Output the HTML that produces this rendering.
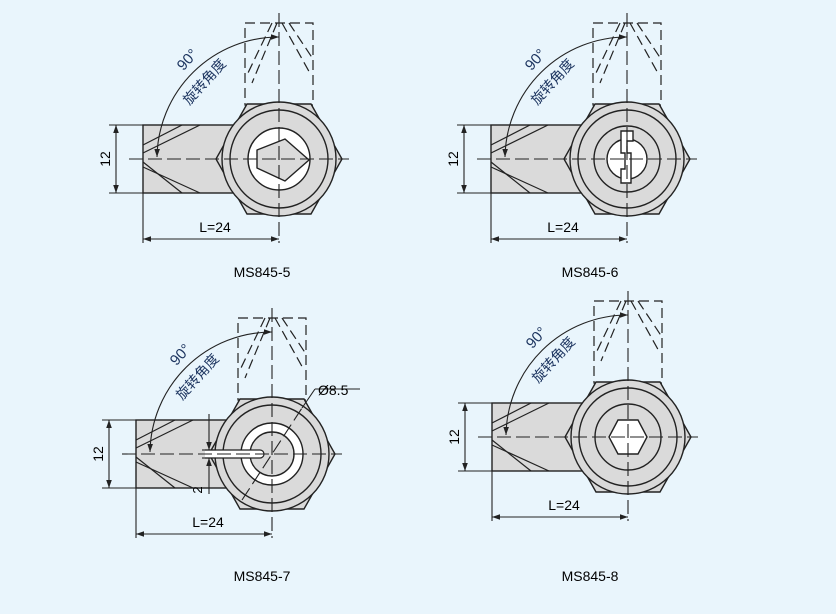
<!DOCTYPE html>
<html><head><meta charset="utf-8"><style>
html,body{margin:0;padding:0;background:#e9f5fc;}
svg{display:block;}
text{font-family:"Liberation Sans","Noto Sans CJK SC",sans-serif;}
</style></head><body>
<svg width="836" height="614" viewBox="0 0 836 614" xmlns="http://www.w3.org/2000/svg">
<defs>
<marker id="ar" viewBox="0 0 10 10" refX="10" refY="5" markerWidth="8" markerHeight="8" orient="auto-start-reverse" markerUnits="userSpaceOnUse"><path d="M0,1.5 L10,5 L0,8.5 z" fill="#222"/></marker>
<g id="base" stroke="#222" stroke-width="1.4">
  <rect x="-136" y="-34" width="100" height="68" fill="#dadada"/>
  <g fill="none" stroke-width="1.2">
    <line x1="-136" y1="-14" x2="-97" y2="-34"/><line x1="-136" y1="-6" x2="-79" y2="-34"/>
    <line x1="-136" y1="3" x2="-97" y2="34"/><line x1="-136" y1="8" x2="-79" y2="34"/>
  </g>
  <g fill="none" stroke-dasharray="10,5" stroke-width="1.2">
    <rect x="-34" y="-136" width="68" height="82"/>
    <line x1="-7" y1="-136" x2="-32" y2="-84"/><line x1="-2" y1="-136" x2="-27" y2="-76"/>
    <line x1="3" y1="-136" x2="32" y2="-84"/><line x1="10" y1="-136" x2="34" y2="-100"/>
  </g>
  <polygon points="-63,0 -32,-55 32,-55 63,0 32,55 -32,55" fill="#dadada"/>
  <circle r="57" fill="#dadada"/>
  <circle r="49" fill="none"/>
  <path d="M0,-122 A122 122 0 0 0 -122,-2" fill="none" stroke-width="1.1" marker-start="url(#ar)" marker-end="url(#ar)"/>
</g>
<g id="dims" stroke="#222" stroke-width="1.1" fill="none">
  <line x1="-170" y1="-34" x2="-136" y2="-34"/><line x1="-170" y1="34" x2="-136" y2="34"/>
  <line x1="-163" y1="-34" x2="-163" y2="34" marker-start="url(#ar)" marker-end="url(#ar)"/>
  <line x1="-136" y1="34" x2="-136" y2="84"/>
  <line x1="-136" y1="80" x2="0" y2="80" marker-start="url(#ar)" marker-end="url(#ar)"/>
</g>
<g id="cl" stroke="#222" stroke-width="1.1" stroke-dasharray="14,5" fill="none">
  <line x1="0" y1="-146" x2="0" y2="84"/>
  <line x1="-150" y1="0" x2="70" y2="0"/>
</g>
</defs>

<!-- Figure 1 -->
<g transform="translate(279,159)">
  <use href="#base"/>
  <circle r="31" fill="#fff" stroke="#222" stroke-width="1.4"/>
  <polygon points="-22,-9 -22,9 6,22 30,1 6,-20" fill="#dadada" stroke="#222" stroke-width="1.4" stroke-linejoin="round"/>
  <use href="#cl"/><use href="#dims"/>
  <text x="-64" y="73" font-size="14" text-anchor="middle">L=24</text>
  <text transform="translate(-169,0) rotate(-90)" font-size="14" text-anchor="middle">12</text>
  <text transform="translate(-88,-96) rotate(-48)" font-size="15" fill="#1d3560" text-anchor="middle">90°</text>
  <text transform="translate(-71,-74) rotate(-48)" font-size="14" fill="#1d3560" text-anchor="middle">旋转角度</text>
  <text x="-17" y="118" font-size="14" text-anchor="middle">MS845-5</text>
</g>

<!-- Figure 2 -->
<g transform="translate(627,159)">
  <use href="#base"/>
  <circle r="33" fill="none" stroke="#222" stroke-width="1.4"/>
  <circle r="20" fill="#fff" stroke="#222" stroke-width="1.4"/>
  <path d="M-6,-28 L6,-28 L6,-18 L0,-18 L0,-6 L4,-6 L4,24 L-6,24 L-6,10 L-2,10 L-2,-6 L-6,-6 z" fill="#fff" stroke="#222" stroke-width="1.4"/>
  <use href="#cl"/><use href="#dims"/>
  <text x="-64" y="73" font-size="14" text-anchor="middle">L=24</text>
  <text transform="translate(-169,0) rotate(-90)" font-size="14" text-anchor="middle">12</text>
  <text transform="translate(-88,-96) rotate(-48)" font-size="15" fill="#1d3560" text-anchor="middle">90°</text>
  <text transform="translate(-71,-74) rotate(-48)" font-size="14" fill="#1d3560" text-anchor="middle">旋转角度</text>
  <text x="-37" y="118" font-size="14" text-anchor="middle">MS845-6</text>
</g>

<!-- Figure 3 -->
<g transform="translate(272,454)">
  <use href="#base"/>
  <circle r="31" fill="#fff" stroke="#222" stroke-width="1.4"/>
  <circle r="22" fill="#dadada" stroke="#222" stroke-width="1.4"/>
  <path d="M-67,-4 L-12,-4 A4 4 0 0 1 -12,4 L-67,4" fill="#fff" stroke="#222" stroke-width="1.2"/>
  <use href="#cl"/><use href="#dims"/>
  <g stroke="#222" stroke-width="1.1" fill="none">
    <line x1="-63" y1="-40" x2="-63" y2="-4" marker-end="url(#ar)"/>
    <line x1="-63" y1="40" x2="-63" y2="4" marker-end="url(#ar)"/>
    <line x1="-70" y1="-4" x2="-56" y2="-4"/><line x1="-70" y1="4" x2="-56" y2="4"/>
    <line x1="-30" y1="46" x2="30" y2="-46" stroke-dasharray="14,5"/>
    <line x1="30" y1="-46" x2="43" y2="-65"/>
    <line x1="43" y1="-65" x2="88" y2="-65"/>
  </g>
  <text x="46" y="-53" font-size="14" transform="translate(0,-6)">Ø8.5</text>
  <text transform="translate(-70,36) rotate(-90)" font-size="13" text-anchor="middle">2</text>
  <text x="-64" y="73" font-size="14" text-anchor="middle">L=24</text>
  <text transform="translate(-169,0) rotate(-90)" font-size="14" text-anchor="middle">12</text>
  <text transform="translate(-88,-96) rotate(-48)" font-size="15" fill="#1d3560" text-anchor="middle">90°</text>
  <text transform="translate(-71,-74) rotate(-48)" font-size="14" fill="#1d3560" text-anchor="middle">旋转角度</text>
  <text x="-10" y="127" font-size="14" text-anchor="middle">MS845-7</text>
</g>

<!-- Figure 4 -->
<g transform="translate(628,437)">
  <use href="#base"/>
  <circle r="33" fill="none" stroke="#222" stroke-width="1.4"/>
  <polygon points="-19,0 -10,-17 10,-17 19,0 10,17 -10,17" fill="#fff" stroke="#222" stroke-width="1.4"/>
  <use href="#cl"/><use href="#dims"/>
  <text x="-64" y="73" font-size="14" text-anchor="middle">L=24</text>
  <text transform="translate(-169,0) rotate(-90)" font-size="14" text-anchor="middle">12</text>
  <text transform="translate(-88,-96) rotate(-48)" font-size="15" fill="#1d3560" text-anchor="middle">90°</text>
  <text transform="translate(-71,-74) rotate(-48)" font-size="14" fill="#1d3560" text-anchor="middle">旋转角度</text>
  <text x="-38" y="144" font-size="14" text-anchor="middle">MS845-8</text>
</g>
</svg>
</body></html>
